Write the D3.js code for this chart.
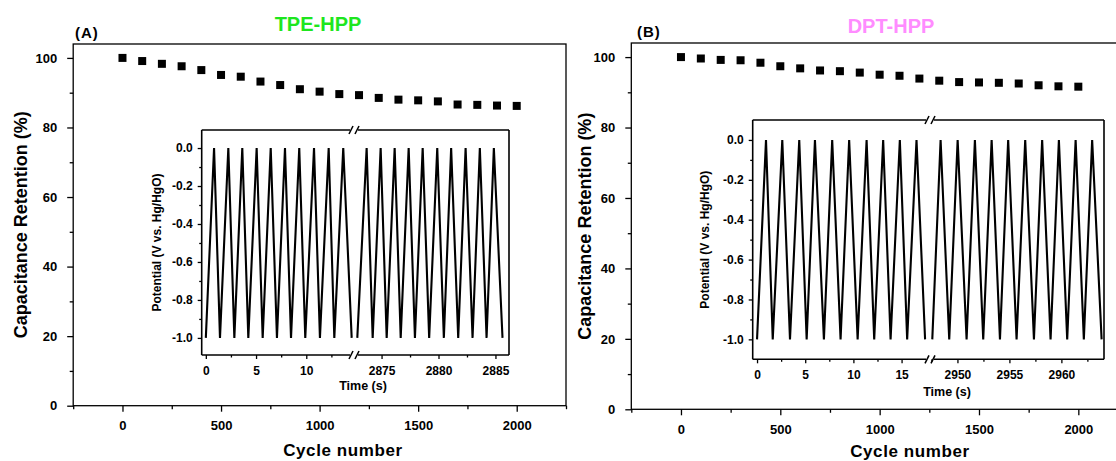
<!DOCTYPE html>
<html>
<head>
<meta charset="utf-8">
<script src="https://cdnjs.cloudflare.com/ajax/libs/d3/7.8.5/d3.min.js"></script>
<style>
body { margin: 0; background: #fff; }
svg { display: block; font-family: "Liberation Sans", Arial, sans-serif; font-weight: bold; }
</style>
</head>
<body>
<div id="chart"></div>
<script>
// cycling data
var cycles = [0, 100, 200, 300, 400, 500, 600, 700, 800, 900, 1000,
  1100, 1200, 1300, 1400, 1500, 1600, 1700, 1800, 1900, 2000];
var retentionTPE = [100, 99.1, 98.3, 97.6, 96.5, 95.1, 94.6, 93.2, 92.2, 91.0, 90.3,
  89.6, 89.3, 88.5, 88.0, 87.8, 87.5, 86.6, 86.5, 86.3, 86.2];
var retentionDPT = [100, 99.6, 99.2, 99.1, 98.4, 97.4, 96.8, 96.2, 96.0, 95.6, 95.0,
  94.7, 93.9, 93.3, 92.9, 92.8, 92.7, 92.5, 92.0, 91.7, 91.6];

// charge/discharge curves: turning points (time s, potential V)
var tpeEarlyTime = [0, 0.82, 1.41, 2.24, 2.84, 3.63, 4.23, 5.06, 5.66, 6.46, 7.08,
  7.88, 8.48, 9.30, 9.90, 10.77, 11.36, 12.23, 12.79, 13.68, 14.52];
var tpeLateTime = [2872.87, 2873.69, 2874.22, 2874.92, 2875.45, 2876.15, 2876.68, 2877.38, 2877.93, 2878.61, 2879.18,
  2879.89, 2880.47, 2881.11, 2881.73, 2882.38, 2882.99, 2883.63, 2884.22, 2884.86, 2885.62];
var dptEarlyTime = [0, 0.93, 1.63, 2.62, 3.42, 4.38, 5.15, 6.01, 6.94, 7.80, 8.67,
  9.56, 10.44, 11.37, 12.16, 13.09, 13.86, 14.82, 15.58, 16.55, 17.44];
var dptLateTime = [2947.58, 2948.38, 2949.21, 2950.02, 2950.88, 2951.68, 2952.48, 2953.29, 2954.09, 2954.88, 2955.69,
  2956.52, 2957.36, 2958.15, 2958.96, 2959.76, 2960.56, 2961.37, 2962.16, 2962.96, 2963.87];
var turnPotential = [-1.0, 0.0, -1.0, 0.0, -1.0, 0.0, -1.0, 0.0, -1.0, 0.0, -1.0,
  0.0, -1.0, 0.0, -1.0, 0.0, -1.0, 0.0, -1.0, 0.0, -1.0];

// tick labels
var cycleTicks = [0, 500, 1000, 1500, 2000];
var cycleMinor = [-250, 250, 750, 1250, 1750, 2250];
var retentionTicks = [0, 20, 40, 60, 80, 100];
var retentionMinor = [10, 30, 50, 70, 90];
var potentialTicks = [0, -0.2, -0.4, -0.6, -0.8, -1.0];
var potentialMinor = [-0.1, -0.3, -0.5, -0.7, -0.9];
var tpeTicksEarly = [0, 5, 10], tpeMinorEarly = [2.5, 7.5, 12.5];
var tpeTicksLate = [2875, 2880, 2885], tpeMinorLate = [2877.5, 2882.5];
var dptTicksEarly = [0, 5, 10, 15], dptMinorEarly = [2.5, 7.5, 12.5];
var dptTicksLate = [2950, 2955, 2960], dptMinorLate = [2947.5, 2952.5, 2957.5, 2962.5];

var svg = d3.select("#chart").append("svg")
  .attr("width", 1116)
  .attr("height", 461);

var panels = [
  {
    tag: "(A)", tagX: 75, tagY: 38,
    title: "TPE-HPP", titleColor: "#1ee61e", titleX: 318, titleY: 31,
    values: retentionTPE,
    box: {left: 73.2, right: 566, top: 44, bottom: 405.7},
    yTitleX: 27, xTitleX: 343, xTitleY: 456,
    inset: {
      left: 201.7, right: 509, top: 130, bottom: 355, brk: 354,
      yDomain: [-1.09, 0.095],
      early: [-0.41, 14.75], late: [2872.58, 2886.19],
      earlyTime: tpeEarlyTime, lateTime: tpeLateTime,
      ticksEarly: tpeTicksEarly, minorEarly: tpeMinorEarly,
      ticksLate: tpeTicksLate, minorLate: tpeMinorLate,
      yTitleX: 161, timeX: 363, timeY: 390
    }
  },
  {
    tag: "(B)", tagX: 637, tagY: 37,
    title: "DPT-HPP", titleColor: "#ff8cff", titleX: 891, titleY: 33,
    values: retentionDPT,
    box: {left: 631.3, right: 1128, top: 43, bottom: 409.3},
    yTitleX: 591, xTitleX: 910, xTitleY: 457,
    inset: {
      left: 752.7, right: 1104, top: 120, bottom: 359.3, brk: 930,
      yDomain: [-1.1, 0.1],
      early: [-0.45, 17.95], late: [2947.36, 2964.1],
      earlyTime: dptEarlyTime, lateTime: dptLateTime,
      ticksEarly: dptTicksEarly, minorEarly: dptMinorEarly,
      ticksLate: dptTicksLate, minorLate: dptMinorLate,
      yTitleX: 709, timeX: 947, timeY: 396
    }
  }
];

function tidy(g) {
  g.select(".domain").remove();
  g.selectAll("line").attr("stroke", "#000").attr("stroke-width", 1.3);
  g.selectAll("text").attr("fill", "#000").attr("font-family", null).attr("font-size", null);
}

panels.forEach(function(p) {
  var b = p.box;
  var g = svg.append("g");

  var x = d3.scaleLinear().domain([-250, 2250]).range([b.left, b.right]);
  var y = d3.scaleLinear().domain([0, 104]).range([b.bottom, b.top]);

  // main axes
  g.append("g")
    .attr("transform", `translate(0,${b.bottom})`)
    .style("font-size", "13px")
    .call(d3.axisBottom(x).tickValues(cycleTicks).tickSize(6).tickPadding(9).tickFormat(d3.format("d")))
    .call(tidy);
  g.append("g")
    .attr("transform", `translate(0,${b.bottom})`)
    .call(d3.axisBottom(x).tickValues(cycleMinor).tickSize(3.5).tickFormat(""))
    .call(tidy);
  g.append("g")
    .attr("transform", `translate(${b.left},0)`)
    .style("font-size", "13px")
    .call(d3.axisLeft(y).tickValues(retentionTicks).tickSize(6).tickPadding(10).tickFormat(d3.format("d")))
    .call(tidy);
  g.append("g")
    .attr("transform", `translate(${b.left},0)`)
    .call(d3.axisLeft(y).tickValues(retentionMinor).tickSize(3.5).tickFormat(""))
    .call(tidy);

  // frame
  g.append("rect")
    .attr("x", b.left).attr("y", b.top)
    .attr("width", b.right - b.left).attr("height", b.bottom - b.top)
    .attr("fill", "none").attr("stroke", "#000").attr("stroke-width", 1.3);

  // retention points
  g.selectAll("rect.pt")
    .data(cycles)
    .enter()
    .append("rect")
    .attr("class", "pt")
    .attr("x", (d, i) => x(d) - 4)
    .attr("y", (d, i) => y(p.values[i]) - 4)
    .attr("width", 8).attr("height", 8)
    .attr("fill", "#000");

  // labels
  g.append("text").attr("x", p.tagX).attr("y", p.tagY)
    .attr("font-size", 15).attr("letter-spacing", 1).text(p.tag);
  g.append("text").attr("x", p.titleX).attr("y", p.titleY)
    .attr("text-anchor", "middle").attr("font-size", 20)
    .attr("fill", p.titleColor).text(p.title);
  g.append("text")
    .attr("transform", `translate(${p.yTitleX},${(b.top + b.bottom) / 2}) rotate(-90)`)
    .attr("text-anchor", "middle").attr("font-size", 18)
    .text("Capacitance Retention (%)");
  g.append("text").attr("x", p.xTitleX).attr("y", p.xTitleY)
    .attr("text-anchor", "middle").attr("font-size", 17).attr("letter-spacing", 0.6)
    .text("Cycle number");

  // inset with broken time axis
  var s = p.inset;
  var ig = svg.append("g");
  var iy = d3.scaleLinear().domain(s.yDomain).range([s.bottom, s.top]);
  var xe = d3.scaleLinear().domain(s.early).range([s.left, s.brk]);
  var xl = d3.scaleLinear().domain(s.late).range([s.brk, s.right]);

  ig.append("rect")
    .attr("x", s.left).attr("y", s.top)
    .attr("width", s.right - s.left).attr("height", s.bottom - s.top)
    .attr("fill", "#fff");

  var line = d3.line().x(d => d.sx(d.t)).y(d => iy(d.v));
  [[s.earlyTime, xe], [s.lateTime, xl]].forEach(function(seg) {
    var pts = seg[0].map((t, i) => ({t: t, v: turnPotential[i], sx: seg[1]}));
    ig.append("path")
      .attr("d", line(pts))
      .attr("fill", "none")
      .attr("stroke", "#000")
      .attr("stroke-width", 2.1)
      .attr("stroke-linejoin", "miter");
  });

  ig.append("g")
    .attr("transform", `translate(${s.left},0)`)
    .style("font-size", "12px")
    .call(d3.axisLeft(iy).tickValues(potentialTicks).tickSize(4).tickPadding(5).tickFormat(d => d.toFixed(1)))
    .call(tidy);
  ig.append("g")
    .attr("transform", `translate(${s.left},0)`)
    .call(d3.axisLeft(iy).tickValues(potentialMinor).tickSize(2.5).tickFormat(""))
    .call(tidy);
  [[xe, s.ticksEarly, s.minorEarly], [xl, s.ticksLate, s.minorLate]].forEach(function(a) {
    ig.append("g")
      .attr("transform", `translate(0,${s.bottom})`)
      .style("font-size", "12px")
      .call(d3.axisBottom(a[0]).tickValues(a[1]).tickSize(4).tickPadding(7).tickFormat(d3.format("d")))
      .call(tidy);
    ig.append("g")
      .attr("transform", `translate(0,${s.bottom})`)
      .call(d3.axisBottom(a[0]).tickValues(a[2]).tickSize(2.5).tickFormat(""))
      .call(tidy);
  });

  // frame with break marks
  var fw = 1.6;
  var seglines = [
    [s.left, s.top, s.left, s.bottom],
    [s.right, s.top, s.right, s.bottom],
    [s.left, s.top, s.brk - 4, s.top],
    [s.brk + 4, s.top, s.right, s.top],
    [s.left, s.bottom, s.brk - 4, s.bottom],
    [s.brk + 4, s.bottom, s.right, s.bottom]
  ];
  [s.top, s.bottom].forEach(function(yy) {
    seglines.push([s.brk - 5, yy + 4, s.brk - 1, yy - 4]);
    seglines.push([s.brk + 1, yy + 4, s.brk + 5, yy - 4]);
  });
  ig.selectAll("line.frame")
    .data(seglines)
    .enter()
    .append("line")
    .attr("class", "frame")
    .attr("x1", d => d[0]).attr("y1", d => d[1])
    .attr("x2", d => d[2]).attr("y2", d => d[3])
    .attr("stroke", "#000").attr("stroke-width", fw);

  ig.append("text")
    .attr("transform", `translate(${s.yTitleX},${(s.top + s.bottom) / 2}) rotate(-90)`)
    .attr("text-anchor", "middle").attr("font-size", 12)
    .text("Potential (V vs. Hg/HgO)");
  ig.append("text").attr("x", s.timeX).attr("y", s.timeY)
    .attr("text-anchor", "middle").attr("font-size", 12.5)
    .text("Time (s)");
});
</script>
</body>
</html>
